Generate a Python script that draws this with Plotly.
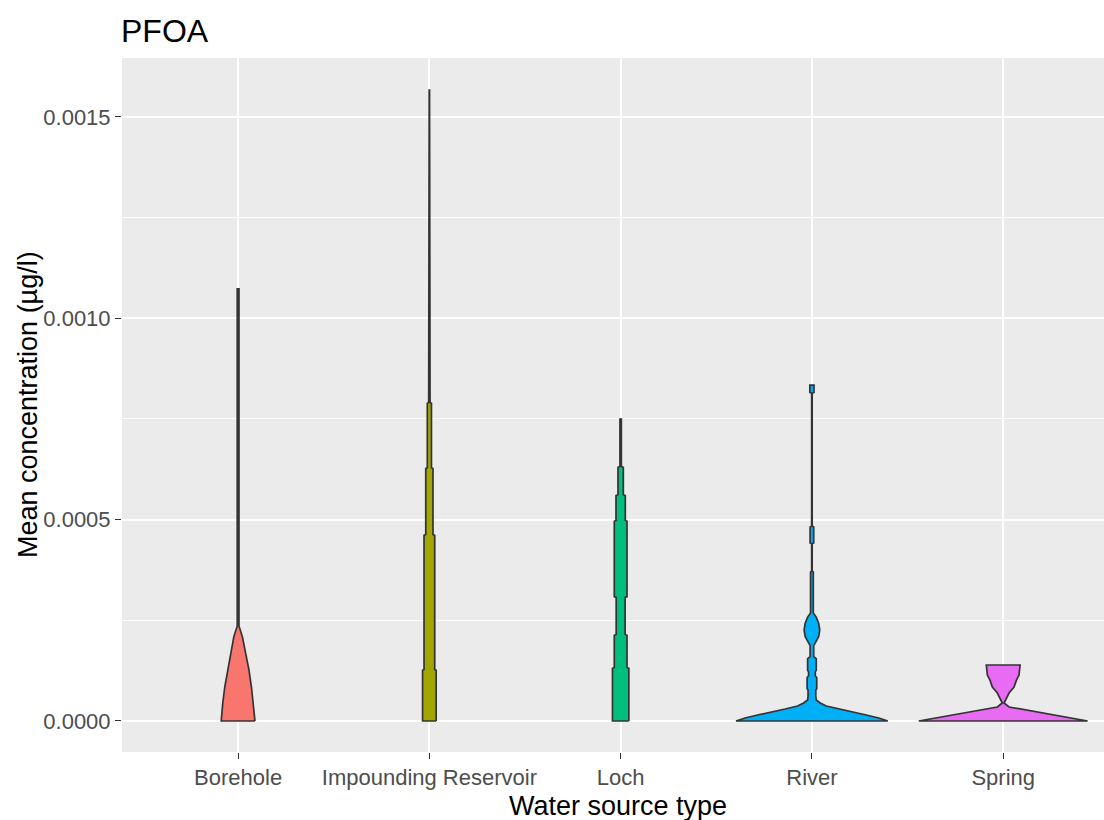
import plotly.graph_objects as go

# ---- data -------------------------------------------------------------
title_text = "PFOA"
categories = ["Borehole", "Impounding Reservoir", "Loch", "River", "Spring"]
colors = ["#F8766D", "#A3A500", "#00BF7D", "#00B0F6", "#E76BF3"]

# violin outlines: concentration levels (µg/l) and relative density (max ~1)
borehole_conc = [0, 0.0000447, 0.0000844, 0.000127, 0.000169, 0.000209, 0.000236,
                 0.000606, 0.000608, 0.000930, 0.000932, 0.001073]
borehole_dens = [0.196, 0.178, 0.155, 0.126, 0.085, 0.050, 0.010,
                 0.010, 0.002, 0.002, 0.010, 0.010]

reservoir_conc = [0, 0.000126, 0.000128, 0.000461, 0.000463, 0.000627, 0.000629,
                  0.000789, 0.000791, 0.000821, 0.000823, 0.001567]
reservoir_dens = [0.079, 0.079, 0.062, 0.062, 0.042, 0.042, 0.024,
                  0.024, 0.008, 0.008, 0.002, 0.002]

loch_conc = [0, 0.000131, 0.000133, 0.000213, 0.000215, 0.000307, 0.000309,
             0.000496, 0.000498, 0.000560, 0.000562, 0.000630, 0.000632, 0.000750]
loch_dens = [0.095, 0.095, 0.074, 0.074, 0.052, 0.052, 0.074,
             0.074, 0.054, 0.054, 0.031, 0.031, 0.008, 0.008]

river_conc = [0, 0.0000075, 0.0000149, 0.0000224, 0.0000298, 0.0000373, 0.0000447,
              0.0000522, 0.000062, 0.000077, 0.000080, 0.000108, 0.000112, 0.000122,
              0.000126, 0.000155, 0.000160, 0.000187, 0.000194, 0.000210, 0.000226,
              0.000242, 0.000258, 0.000268, 0.000370, 0.000372, 0.000440, 0.000442,
              0.000482, 0.000484, 0.000814, 0.000816, 0.000834]
river_dens = [0.882, 0.777, 0.632, 0.486, 0.312, 0.167, 0.097,
              0.050, 0.045, 0.045, 0.056, 0.056, 0.039, 0.039,
              0.050, 0.050, 0.021, 0.021, 0.039, 0.079, 0.091,
              0.079, 0.050, 0.016, 0.016, 0.003, 0.003, 0.021,
              0.021, 0.003, 0.003, 0.024, 0.024]

spring_conc = [0, 0.0000099, 0.0000199, 0.0000273, 0.0000348, 0.0000447, 0.0000522,
               0.0000695, 0.0000844, 0.000102, 0.000114, 0.000130, 0.000139]
spring_dens = [0.981, 0.707, 0.475, 0.265, 0.068, 0.010, 0.027,
               0.068, 0.126, 0.155, 0.184, 0.190, 0.196]

violins = [
    (borehole_conc, borehole_dens),
    (reservoir_conc, reservoir_dens),
    (loch_conc, loch_dens),
    (river_conc, river_dens),
    (spring_conc, spring_dens),
]

y_ticks = [0.0, 0.0005, 0.0010, 0.0015]
y_title = "Mean concentration (µg/l)"
x_title = "Water source type"

# ---- figure -----------------------------------------------------------
MAX_WIDTH = 0.9  # ggplot default violin width
fig = go.Figure()
for i, (conc, dens) in enumerate(violins):
    half = [d * MAX_WIDTH / 2 for d in dens]
    xs = [i + h for h in half] + [i - h for h in reversed(half)]
    ys = list(conc) + list(reversed(conc))
    xs.append(xs[0]); ys.append(ys[0])
    fig.add_trace(go.Scatter(
        x=xs, y=ys, mode="lines", fill="toself",
        fillcolor=colors[i], line=dict(color="#333333", width=1.7),
        name=categories[i], hoverinfo="skip", showlegend=False,
    ))

font = "Liberation Sans, Arial, sans-serif"
fig.update_layout(
    width=1104, height=820,
    margin=dict(l=122, r=0, t=58, b=68),
    paper_bgcolor="white", plot_bgcolor="#EBEBEB",
    font=dict(family=font),
    showlegend=False,
)
fig.update_xaxes(
    range=[-0.607, 4.527], tickmode="array",
    tickvals=list(range(len(categories))), ticktext=categories,
    showgrid=True, gridcolor="white", gridwidth=2.4, zeroline=False,
    ticks="outside", ticklen=6, tickwidth=1.3, tickcolor="#333333",
    tickfont=dict(size=22, color="#4D4D4D", family=font),
    showline=False, fixedrange=True,
)
fig.update_yaxes(
    range=[-0.0000770, 0.0016465], tickmode="array",
    tickvals=y_ticks, tickformat=".4f",
    showgrid=True, gridcolor="white", gridwidth=2.4, zeroline=False,
    minor=dict(tickmode="array", tickvals=[0.00025, 0.00075, 0.00125],
               showgrid=True, gridcolor="white", gridwidth=1.2, ticks=""),
    ticks="outside", ticklen=6, tickwidth=1.3, tickcolor="#333333",
    tickfont=dict(size=22, color="#4D4D4D", family=font),
    showline=False, fixedrange=True,
)
fig.add_annotation(
    text=title_text, xref="paper", yref="paper", x=-0.003, y=1.0396,
    xanchor="left", yanchor="middle", showarrow=False,
    font=dict(size=32, color="black", family=font),
)
fig.add_annotation(
    text=y_title, xref="paper", yref="paper", x=-0.0957, y=0.5,
    xanchor="center", yanchor="middle", textangle=-90, showarrow=False,
    font=dict(size=27, color="black", family=font),
)
fig.add_annotation(
    text=x_title, xref="paper", yref="paper", x=0.505, y=-0.0778,
    xanchor="center", yanchor="middle", showarrow=False,
    font=dict(size=27, color="black", family=font),
)
fig.write_html("out.html")
